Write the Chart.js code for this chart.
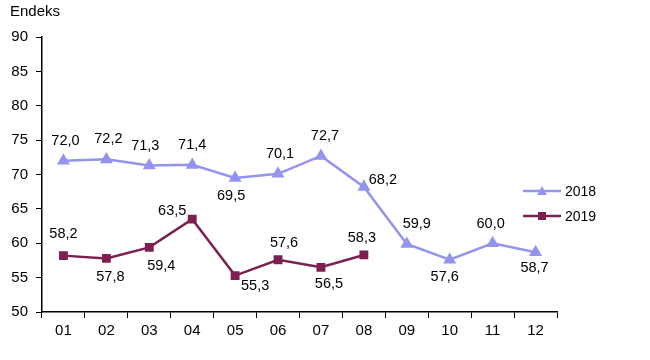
<!DOCTYPE html>
<html>
<head>
<meta charset="utf-8">
<script src="https://cdn.jsdelivr.net/npm/chart.js@4/dist/chart.umd.min.js"></script>
<style>
html,body{margin:0;padding:0;background:#fff;}
#wrap{width:650px;height:360px;position:relative;}
</style>
</head>
<body>
<div id="wrap"><canvas id="c" width="650" height="360"></canvas></div>
<script>
const categories = ["01","02","03","04","05","06","07","08","09","10","11","12"];
const values2018 = [72.0, 72.2, 71.3, 71.4, 69.5, 70.1, 72.7, 68.2, 59.9, 57.6, 60.0, 58.7];
const values2019 = [58.2, 57.8, 59.4, 63.5, 55.3, 57.6, 56.5, 58.3];
const seriesNames = ["2018", "2019"];
const yTitle = "Endeks";

// label offsets (style only): [dx, dy] relative to point
const offs2018 = [[2,-20],[2,-20],[-4,-20],[0,-20],[-4,18],[2,-20],[4,-20],[19,-7],[10,-20],[-5,17],[-2,-19],[-1,16]];
const offs2019 = [[0,-22],[4,19],[12,19],[-20,-8],[20,10],[6,-17],[8,17],[-2,-17]];

const C18 = '#9494EE';
const C19 = '#7D1F50';
const FONT = '"Liberation Sans", Arial, sans-serif';

const overlay = {
  id: 'overlay',
  afterDatasetsDraw(chart) {
    const ctx = chart.ctx;
    ctx.save();
    ctx.fillStyle = '#000';
    ctx.font = '14.5px ' + FONT;
    ctx.textAlign = 'center';
    ctx.textBaseline = 'middle';
    const sets = [offs2018, offs2019];
    chart.data.datasets.forEach((ds, i) => {
      const meta = chart.getDatasetMeta(i);
      meta.data.forEach((pt, j) => {
        const v = ds.data[j];
        if (v == null) return;
        const o = sets[i][j] || [0,-20];
        ctx.fillText(v.toFixed(1).replace('.', ','), pt.x + o[0], pt.y + o[1]);
      });
    });
    // title
    ctx.font = '15px ' + FONT;
    ctx.textAlign = 'left';
    ctx.fillText(yTitle, 10, 12);
    // legend
    const leg = [[C18, 'triangle', 191], [C19, 'rect', 216]];
    leg.forEach((l, i) => {
      const y = l[2];
      ctx.strokeStyle = l[0];
      ctx.lineWidth = 2.5;
      ctx.beginPath(); ctx.moveTo(523, y); ctx.lineTo(561, y); ctx.stroke();
      ctx.fillStyle = l[0];
      if (l[1] === 'rect') {
        ctx.fillRect(538, y - 4, 8, 8);
      } else {
        ctx.beginPath(); ctx.moveTo(542, y - 5); ctx.lineTo(547, y + 4); ctx.lineTo(537, y + 4); ctx.closePath(); ctx.fill();
      }
      ctx.fillStyle = '#000';
      ctx.font = '14px ' + FONT;
      ctx.fillText(seriesNames[i], 565, y + 1);
    });
    ctx.restore();
  }
};

new Chart(document.getElementById('c'), {
  type: 'line',
  data: {
    labels: categories,
    datasets: [
      { label: seriesNames[0], data: values2018, borderColor: C18, backgroundColor: C18,
        borderWidth: 2.5, pointStyle: 'triangle', pointRadius: 5, pointHoverRadius: 5, tension: 0 },
      { label: seriesNames[1], data: values2019, borderColor: C19, backgroundColor: C19,
        borderWidth: 2.5, pointStyle: 'rect', pointRadius: 4.5, pointHoverRadius: 4.5, tension: 0 }
    ]
  },
  options: {
    responsive: false,
    animation: false,
    events: [],
    layout: { padding: { left: 0, right: 93, top: 37, bottom: 17 } },
    plugins: { legend: { display: false }, tooltip: { enabled: false } },
    scales: {
      x: {
        offset: true,
        grid: { display: true, drawOnChartArea: false, offset: true, tickLength: 6, color: '#000', tickColor: '#000' },
        border: { display: true, color: '#000', width: 1.5 },
        ticks: { color: '#000', font: { family: FONT, size: 15 }, padding: 4, maxRotation: 0 },
        afterFit(s) { s.height = 31; }
      },
      y: {
        min: 50, max: 90,
        grid: { display: true, drawOnChartArea: false, tickLength: 6, color: '#000', tickColor: '#000' },
        border: { display: true, color: '#000', width: 1.5 },
        ticks: { stepSize: 5, color: '#000', font: { family: FONT, size: 15 }, padding: 8 },
        afterFit(s) { s.width = 42; }
      }
    }
  },
  plugins: [overlay]
});
</script>
</body>
</html>
